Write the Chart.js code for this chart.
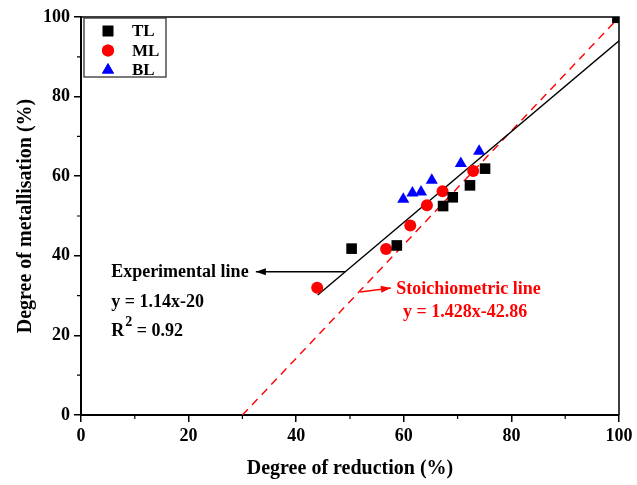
<!DOCTYPE html>
<html>
<head>
<meta charset="utf-8">
<script src="https://cdn.jsdelivr.net/npm/chart.js@4"></script>
<style>
  html, body { margin: 0; padding: 0; background: #fff; }
  #wrap { width: 637px; height: 485px; }
</style>
</head>
<body>
<div id="wrap"><canvas id="metalChart" width="637" height="485"></canvas></div>
<script>
// series (degree of reduction %, degree of metallisation %)
const tlX = [50.3, 58.7, 67.3, 69.1, 72.3, 75.1, 99.7];
const tlY = [41.8, 42.6, 52.5, 54.7, 57.7, 61.9, 99.8];
const mlX = [43.9, 56.7, 61.2, 64.3, 67.2, 72.9];
const mlY = [32.0, 41.7, 47.6, 52.7, 56.2, 61.3];
const blX = [59.9, 61.6, 63.2, 65.2, 70.6, 74.0];
const blY = [54.2, 55.8, 56.0, 59.0, 63.2, 66.3];

// fitted lines: [slope, intercept], x range
const expFit = [1.14, -20];
const expRange = [44, 100];
const stoFit = [1.428, -42.86];
const stoRange = [30, 100];

const xTicks = [0, 20, 40, 60, 80, 100];
const yTicks = [0, 20, 40, 60, 80, 100];

const serif = "'Liberation Serif', 'Times New Roman', serif";

const toPts = (xs, ys) => xs.map((x, i) => ({x: x, y: ys[i]}));
const linePts = (fit, range) => range.map(x => ({x: x, y: fit[0] * x + fit[1]}));

// frame, minor ticks, legend box and the two annotations
const extras = {
    id: 'extras',
    afterDraw(chart) {
        const ctx = chart.ctx;
        const a = chart.chartArea;
        const xs = chart.scales.x, ys = chart.scales.y;
        ctx.save();
        ctx.strokeStyle = '#000';
        ctx.lineWidth = 1.5;
        ctx.beginPath();
        ctx.moveTo(a.left, a.top);
        ctx.lineTo(a.right, a.top);
        ctx.lineTo(a.right, a.bottom);
        ctx.stroke();

        // minor ticks
        ctx.lineWidth = 1.2;
        ctx.beginPath();
        for (let v = 10; v < 100; v += 20) {
            const px = xs.getPixelForValue(v);
            ctx.moveTo(px, a.bottom);
            ctx.lineTo(px, a.bottom + 4);
            const py = ys.getPixelForValue(v);
            ctx.moveTo(a.left, py);
            ctx.lineTo(a.left - 4, py);
        }
        ctx.stroke();

        // legend
        ctx.lineWidth = 1.3;
        ctx.strokeStyle = '#333';
        ctx.strokeRect(a.left + 3, a.top + 1, 82, 59);
        const items = [
            {t: 'TL', style: 'rect', c: '#000', r: 7.5},
            {t: 'ML', style: 'circle', c: '#ff0000', r: 6},
            {t: 'BL', style: 'triangle', c: '#0000ff', r: 7}
        ];
        ctx.font = 'bold 17px ' + serif;
        ctx.textBaseline = 'middle';
        ctx.textAlign = 'left';
        items.forEach((it, i) => {
            const cy = a.top + 14 + i * 19.5;
            ctx.fillStyle = it.c;
            Chart.helpers.drawPoint(ctx, {pointStyle: it.style, radius: it.r, borderWidth: 0}, a.left + 27, cy);
            ctx.fill();
            ctx.fillStyle = '#000';
            ctx.fillText(it.t, a.left + 51, cy + 1);
        });

        // experimental line annotation
        ctx.font = 'bold 18px ' + serif;
        ctx.fillStyle = '#000';
        const ex = xs.getPixelForValue(5.6);
        ctx.fillText('Experimental line', ex, ys.getPixelForValue(35.9));
        ctx.fillText('y = 1.14x-20', ex, ys.getPixelForValue(28.3));
        const rY = ys.getPixelForValue(20.9);
        ctx.fillText('R', ex, rY);
        const rw = ctx.measureText('R').width;
        ctx.font = 'bold 14px ' + serif;
        ctx.fillText('2', ex + rw + 1, rY - 9);
        ctx.font = 'bold 18px ' + serif;
        ctx.fillText(' = 0.92', ex + rw + 8, rY);

        const arrow = (x1, y1, x2, y2, color) => {
            ctx.strokeStyle = color;
            ctx.fillStyle = color;
            ctx.lineWidth = 1.5;
            ctx.beginPath();
            ctx.moveTo(x1, y1);
            ctx.lineTo(x2, y2);
            ctx.stroke();
            const ang = Math.atan2(y2 - y1, x2 - x1);
            ctx.beginPath();
            ctx.moveTo(x2, y2);
            ctx.lineTo(x2 - 10 * Math.cos(ang) + 3.5 * Math.sin(ang), y2 - 10 * Math.sin(ang) - 3.5 * Math.cos(ang));
            ctx.lineTo(x2 - 10 * Math.cos(ang) - 3.5 * Math.sin(ang), y2 - 10 * Math.sin(ang) + 3.5 * Math.cos(ang));
            ctx.closePath();
            ctx.fill();
        };
        arrow(xs.getPixelForValue(49.1), ys.getPixelForValue(36), xs.getPixelForValue(32.5), ys.getPixelForValue(36), '#000');
        arrow(xs.getPixelForValue(51.9), ys.getPixelForValue(30.9), xs.getPixelForValue(57.6), ys.getPixelForValue(31.9), '#ff0000');

        ctx.fillStyle = '#ff0000';
        ctx.fillText('Stoichiometric line', xs.getPixelForValue(58.6), ys.getPixelForValue(31.6));
        ctx.textAlign = 'center';
        ctx.fillText('y = 1.428x-42.86', xs.getPixelForValue(71.4), ys.getPixelForValue(25.9));
        ctx.restore();
    }
};

new Chart(document.getElementById('metalChart'), {
    type: 'scatter',
    data: {
        datasets: [
            {
                label: 'Stoichiometric line',
                data: linePts(stoFit, stoRange),
                showLine: true,
                borderColor: '#ff0000',
                borderWidth: 1.4,
                borderDash: [8, 6],
                pointRadius: 0,
                order: 5
            },
            {
                label: 'Experimental line',
                data: linePts(expFit, expRange),
                showLine: true,
                borderColor: '#000',
                borderWidth: 1.4,
                pointRadius: 0,
                order: 4
            },
            {
                label: 'TL',
                data: toPts(tlX, tlY),
                pointStyle: 'rect',
                pointRadius: 7.5,
                backgroundColor: '#000',
                borderWidth: 0
            },
            {
                label: 'ML',
                data: toPts(mlX, mlY),
                pointStyle: 'circle',
                pointRadius: 6,
                backgroundColor: '#ff0000',
                borderWidth: 0
            },
            {
                label: 'BL',
                data: toPts(blX, blY),
                pointStyle: 'triangle',
                pointRadius: 7,
                backgroundColor: '#0000ff',
                borderWidth: 0
            }
        ]
    },
    options: {
        responsive: false,
        animation: false,
        layout: { padding: { top: 17, right: 18, left: 10, bottom: 0 } },
        plugins: {
            legend: { display: false },
            tooltip: { enabled: false }
        },
        scales: {
            x: {
                type: 'linear',
                min: 0,
                max: 100,
                afterBuildTicks: (s) => { s.ticks = xTicks.map(v => ({value: v})); },
                afterFit: (s) => { s.height = 70; },
                border: { color: '#000', width: 2 },
                grid: { drawOnChartArea: false, drawTicks: true, tickLength: 7, color: '#000', lineWidth: 1.5 },
                ticks: { color: '#000', padding: 4, maxRotation: 0, font: { family: serif, weight: 'bold', size: 18 } },
                title: { display: true, text: 'Degree of reduction (%)', color: '#000', padding: { top: 6 }, font: { family: serif, weight: 'bold', size: 20 } }
            },
            y: {
                type: 'linear',
                min: 0,
                max: 100,
                afterBuildTicks: (s) => { s.ticks = yTicks.map(v => ({value: v})); },
                afterFit: (s) => { s.width = 71; },
                border: { color: '#000', width: 2 },
                grid: { drawOnChartArea: false, drawTicks: true, tickLength: 7, color: '#000', lineWidth: 1.5 },
                ticks: { color: '#000', padding: 4, font: { family: serif, weight: 'bold', size: 18 } },
                title: { display: true, text: 'Degree of metallisation (%)', color: '#000', padding: { bottom: 6 }, font: { family: serif, weight: 'bold', size: 20 } }
            }
        }
    },
    plugins: [extras]
});
</script>
</body>
</html>
